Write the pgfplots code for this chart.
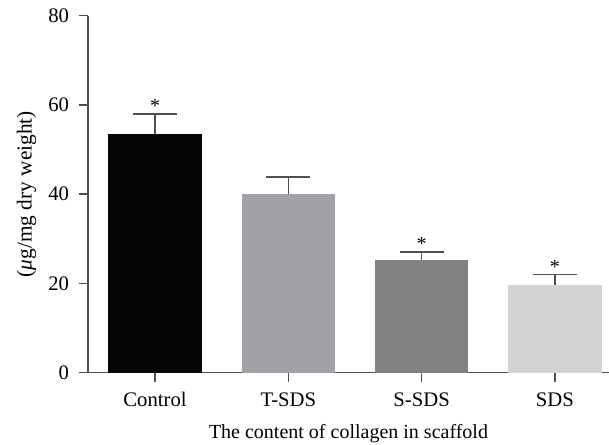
\documentclass[border=0pt]{standalone}
\usepackage{fontspec}
\setmainfont{Liberation Serif}
\usepackage{pgfplots}
\pgfplotsset{compat=1.18}
\definecolor{axgray}{HTML}{4F4F4F}
\definecolor{cctrl}{HTML}{050505}
\definecolor{ctsds}{HTML}{A1A2A5}
\definecolor{cssds}{HTML}{828282}
\definecolor{csds}{HTML}{D3D3D3}
\pgfplotstableread{
x y err
0 53.5 4.5
}\ctrl
\pgfplotstableread{
x y err
1 40.0 3.85
}\tsds
\pgfplotstableread{
x y err
2 25.25 1.85
}\ssds
\pgfplotstableread{
x y err
3 19.65 2.35
}\sds
\pgfplotstableread{
x y label
0 58.0 *
2 27.1 *
3 22.0 *
}\stars
\pgfplotsset{
  mybar/.style={
    ybar, bar width=0.7, bar shift=0pt, draw=none,
    error bars/y dir=plus, error bars/y explicit,
    error bars/error bar style={axgray, line width=1.2pt},
    error bars/error mark options={axgray, line width=1.2pt, mark size=16.5pt, rotate=90}},
}
\begin{document}
\fontsize{15pt}{18pt}\selectfont
\begin{tikzpicture}
\useasboundingbox (-66pt,-53.5pt) rectangle (390.75pt,279.5pt);
\begin{axis}[
  at={(0,0)}, anchor=south west,
  scale only axis, width=390.75pt, height=267.75pt,
  xmin=-0.503, xmax=3.406, ymin=0, ymax=80,
  axis x line*=bottom, axis y line*=left,
  axis line style={-, axgray, line width=1.2pt},
  xtick={0,1,2,3}, xticklabels={Control,T-SDS,S-SDS,SDS},
  ytick={0,20,40,60,80},
  tick align=outside, major tick length=7pt,
  tick style={axgray, line width=1.2pt},
  /pgf/number format/assume math mode=true,
  tick label style={font=\fontsize{15.5pt}{18pt}\selectfont},
  xticklabel style={anchor=base, yshift=-18pt},
  yticklabel style={xshift=-2pt},
  label style={font=\fontsize{15pt}{18pt}\selectfont},
  ylabel={({\itshape μ}g/mg dry weight)},
  ylabel style={at={(axis description cs:-0.118,0.5)}, anchor=center, font=\fontsize{16pt}{18pt}\selectfont},
  xlabel={The content of collagen in scaffold},
  xlabel style={at={(axis description cs:0.5,0)}, anchor=base, yshift=-49pt},
  clip=false,
]
\addplot[mybar, fill=cctrl] table[x=x, y=y, y error=err] {\ctrl};
\addplot[mybar, fill=ctsds] table[x=x, y=y, y error=err] {\tsds};
\addplot[mybar, fill=cssds] table[x=x, y=y, y error=err] {\ssds};
\addplot[mybar, fill=csds] table[x=x, y=y, y error=err] {\sds};
\addplot[draw=none, mark=none, only marks,
  nodes near coords, point meta=explicit symbolic,
  every node near coord/.append style={anchor=south, inner sep=0.5pt, font=\fontsize{15pt}{18pt}\selectfont}]
  table[x=x, y=y, meta=label] {\stars};
\end{axis}
\end{tikzpicture}
\end{document}
